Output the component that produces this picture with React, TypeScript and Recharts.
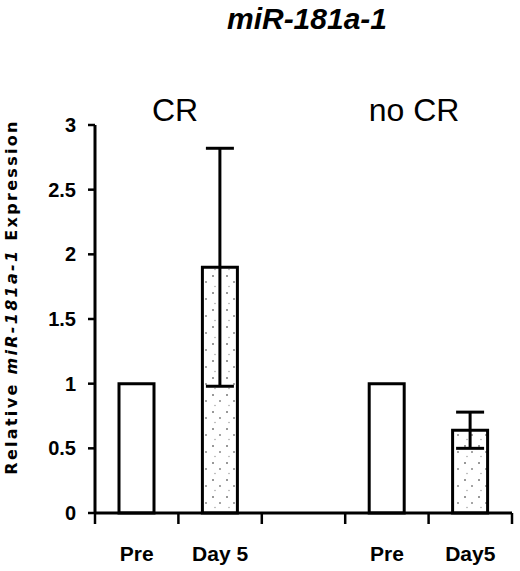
import React from 'react';
import { BarChart, Bar, XAxis, YAxis, ErrorBar, Cell } from 'recharts';

const chartTitle = 'miR-181a-1';
const categories = ['Pre', 'Day 5', '', 'Pre', 'Day5'];
const expression: (number | null)[] = [1, 1.9, null, 1, 0.64];
const errors: (number | null)[] = [null, 0.92, null, null, 0.14];
const stippled = [false, true, false, false, true];
const groupLabels = ['CR', 'no CR'];
const yTicks = [0, 0.5, 1, 1.5, 2, 2.5, 3];
const boundaryTicks = [-0.5, 0.5, 1.5, 2.5, 3.5, 4.5];

const data = categories.map((name, i) => ({
  idx: i,
  name,
  value: expression[i],
  err: errors[i] == null ? undefined : errors[i],
}));

const W = 520;
const H = 571;

const NoLabel = () => <g />;

export default function App() {
  return (
    <div style={{ position: 'absolute', left: 0, top: 0, width: W, height: H, background: '#fff' }}>
      <svg width={0} height={0} style={{ position: 'absolute' }}>
        <defs>
          <pattern id="stipple" width="14" height="17" patternUnits="userSpaceOnUse">
            <rect width="14" height="17" fill="#fff" />
            <circle cx="3" cy="4" r="1" fill="#777" />
            <circle cx="10" cy="10" r="1" fill="#888" />
            <circle cx="5" cy="14.5" r="0.8" fill="#aaa" />
          </pattern>
        </defs>
      </svg>
      <BarChart
        width={W}
        height={H}
        data={data}
        margin={{ top: 125, right: 8, bottom: 0, left: 0 }}
      >
        <XAxis
          xAxisId="b"
          dataKey="idx"
          type="category"
          height={57}
          axisLine={false}
          tickLine={false}
          tickSize={0}
          tickMargin={32}
          interval={0}
          tickFormatter={(v: number) => categories[v]}
          tick={{ fill: '#000', fontSize: 21, fontWeight: 700, fontFamily: 'Liberation Sans, Arial, sans-serif' }}
        />
        <XAxis
          xAxisId="a"
          dataKey="idx"
          type="number"
          domain={[-0.5, 4.5]}
          allowDataOverflow
          ticks={boundaryTicks}
          tick={NoLabel}
          tickSize={11}
          height={1}
          interval={0}
          axisLine={{ stroke: '#000', strokeWidth: 3 }}
          tickLine={{ stroke: '#000', strokeWidth: 2.5 }}
        />
        <YAxis
          type="number"
          domain={[0, 3]}
          ticks={yTicks}
          width={95}
          tickSize={7}
          tickMargin={12}
          axisLine={{ stroke: '#000', strokeWidth: 3 }}
          tickLine={{ stroke: '#000', strokeWidth: 2.5 }}
          tick={{ fill: '#000', fontSize: 20, fontWeight: 700, fontFamily: 'Liberation Sans, Arial, sans-serif' }}
          interval={0}
        />
        <Bar
          xAxisId="b"
          dataKey="value"
          barSize={35}
          stroke="#000"
          strokeWidth={3}
          isAnimationActive={false}
        >
          {data.map((d, i) => (
            <Cell key={i} fill={stippled[i] ? 'url(#stipple)' : '#fff'} />
          ))}
          <ErrorBar dataKey="err" width={14} stroke="#000" strokeWidth={3} direction="y" />
        </Bar>
      </BarChart>
      <svg
        width={W}
        height={H}
        style={{ position: 'absolute', left: 0, top: 0, pointerEvents: 'none' }}
      >
        <text
          x={307}
          y={29}
          textAnchor="middle"
          fontFamily="Liberation Sans, Arial, sans-serif"
          fontWeight={700}
          fontStyle="italic"
          fontSize={30}
          fill="#000"
        >
          {chartTitle}
        </text>
        <text x={175} y={121} textAnchor="middle" fontFamily="Liberation Sans, Arial, sans-serif" fontSize={32} fill="#000">
          {groupLabels[0]}
        </text>
        <text x={414} y={121} textAnchor="middle" fontFamily="Liberation Sans, Arial, sans-serif" fontSize={32} fill="#000">
          {groupLabels[1]}
        </text>
        <text
          x={11}
          y={297}
          transform="rotate(-90 11 297)"
          textAnchor="middle"
          dominantBaseline="central"
          fontFamily="DejaVu Sans, sans-serif"
          fontWeight={700}
          fontSize={16}
          letterSpacing={2.3}
          fill="#000"
        >
          Relative <tspan fontStyle="italic">miR-181a-1</tspan> Expression
        </text>
      </svg>
    </div>
  );
}
